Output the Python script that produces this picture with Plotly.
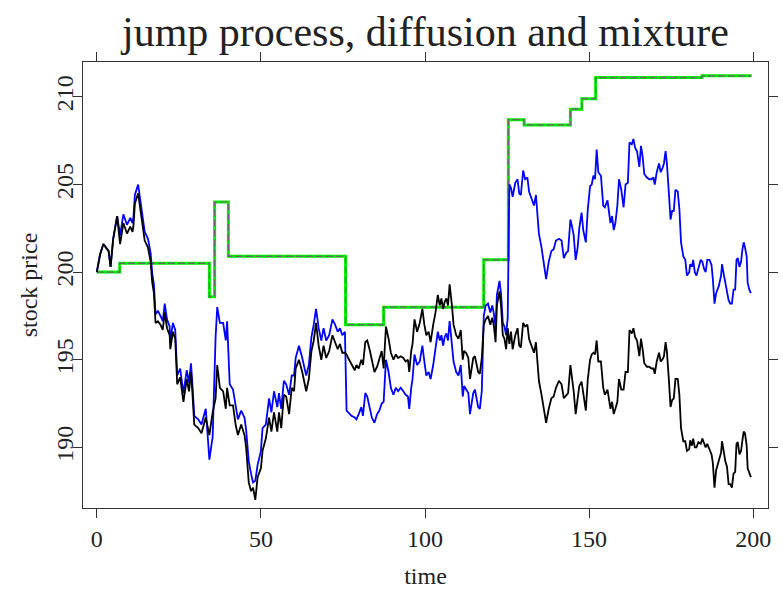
import plotly.graph_objects as go

# ---------------- data ----------------
time = [
    0, 1, 2, 3, 3.6, 4.2, 5, 6.2, 7.1, 8.1, 9.2, 10.2, 10.9, 11.2, 11.6, 12.6, 13.4, 13.9, 14.6, 15.6,
    16.4, 16.9, 17.4, 17.9, 18.6, 19.4, 20.1, 20.7, 21.4, 22.2, 22.4, 23.2, 23.9, 24.5, 25.4, 26.4, 27.4,
    28.1, 28.7, 29.1, 29.7, 30.9, 31.9, 33.2, 34.3, 35.3,
    36.2, 36.7, 37.5, 38.5, 39.3, 39.7, 40.5, 41.5, 42.3, 43.0, 44.0, 45.0, 45.5, 46.3, 47.0, 47.6, 48.3,
    49.0, 50.0, 50.5, 51.5, 52.5, 53.2, 54.0, 55.0, 55.5, 56.2, 57.0, 57.7, 58.6, 59.4, 60.1, 60.6, 61.6,
    62.6, 63.8, 64.6, 65.4, 66.1, 66.8, 67.6, 68.4, 69.1, 69.9, 70.8, 71.8, 72.6, 73.4, 74.1, 74.8, 75.6,
    76.1, 76.6, 77.6, 78.6, 79.1, 79.8, 80.6, 81.1, 81.8, 82.4, 83.1, 83.8, 84.6, 85.4, 86.1, 86.8, 87.4,
    88.1, 88.9, 89.6, 90.4, 91.1, 91.8, 92.6, 93.4, 94.1, 94.8, 95.2, 95.8, 96.2, 96.8, 97.6, 98.4, 99.2,
    99.8, 100.4, 101.1, 101.7, 102.5, 103.2, 103.9,
    104.5, 105.0, 105.5, 106.0, 106.5, 107.0, 107.5, 108.2, 108.7, 109.5, 110.2, 110.9, 111.5, 111.9,
    112.5, 113.2, 113.7, 114.2, 114.7, 115.2, 115.7, 116.2, 116.7, 117.3, 117.9,
    118.5, 119.2, 119.9, 120.5, 121.0, 121.5, 121.9, 122.7, 123.2, 123.7, 124.2, 124.7, 125.2,
    125.7, 126.2, 126.7, 127.5, 128.2, 128.7, 129.2, 129.9, 130.5, 131.2, 131.7, 132.5, 133.2, 133.8,
    134.2, 134.7, 135.5, 136.2, 136.9, 137.7, 138.5, 139.2, 139.9,
    140.8, 141.6, 142.3, 143.0, 143.6, 144.3, 144.8, 145.3, 145.9, 146.5, 147.0, 147.7, 148.2, 149.0,
    149.6, 150.3, 150.8, 151.3, 151.8, 152.3, 152.8, 153.6, 154.3, 154.8, 155.6, 156.0, 156.5, 157.0,
    157.5, 158.0, 158.6, 159.1, 159.8, 160.5, 161.1, 161.8, 162.3, 163.0, 163.5, 164.0, 164.6, 165.3,
    165.8, 166.3, 166.8, 167.6, 168.3, 169.0, 169.6, 170.0, 170.6, 171.3, 171.8, 172.3, 172.8, 173.3,
    173.7, 174.3, 174.8, 175.3, 175.8, 176.3, 177.0, 177.5, 178.0, 178.7, 179.3, 179.8, 180.5, 180.8,
    181.3, 181.7, 182.2, 182.7, 183.3, 184.0, 184.5, 185.0, 185.5, 186.0, 186.7, 187.3, 187.7, 188.2,
    188.7, 189.5, 190.2, 190.5, 191.0, 191.5, 192.0, 192.5, 193.0, 193.5, 194.0, 194.5, 194.9, 195.3,
    195.8, 196.3, 196.7, 197.1, 197.5, 198.0, 198.3, 198.8, 199.3,
]

diffusion = [
    200.0, 201.0, 201.6, 201.3, 201.2, 200.3, 201.9, 203.2, 201.6, 202.8, 202.2, 202.6, 202.3, 202.7, 203.9, 204.5, 203.4, 203.0, 201.8, 201.4,
    200.6, 199.4, 198.8, 197.1, 197.2, 197.0, 196.7, 197.7, 196.8, 196.4, 195.6, 196.6, 196.2, 193.6, 194.0, 192.6, 193.9,
    193.2, 194.3, 193.2, 191.3, 191.1, 190.8, 191.7, 190.7, 192.0,
    192.8, 194.7, 193.4, 193.2, 192.2, 193.4, 192.4, 192.4, 191.3, 190.7, 191.3, 190.7, 190.0, 188.0, 187.5, 187.7, 187.0,
    188.3, 188.8, 189.8, 190.5, 191.7, 190.9, 192.0, 190.9, 192.0, 191.1, 193.0, 192.9, 191.9, 193.4, 193.2, 194.5, 195.0,
    194.3, 193.2, 193.9, 195.5, 196.1, 197.1, 195.8, 195.0, 195.8, 195.1, 195.5, 196.4, 196.0, 195.6, 195.9, 195.4, 195.4,
    195.3, 195.1, 194.7, 194.4, 194.7, 194.5, 195.0, 194.7, 196.0, 196.1, 195.6, 195.0, 194.3, 194.6, 195.1, 195.5, 194.5,
    196.9, 196.2, 195.4, 195.0, 195.3, 195.1, 195.2, 195.1, 194.9, 195.0, 194.3, 195.5, 195.9, 197.3, 196.6, 197.1, 197.9,
    197.0, 196.4, 196.6, 196.0, 197.0, 197.7, 198.7,
    198.1, 198.5, 197.9, 198.3, 198.5, 198.1, 199.3, 198.1, 197.0, 196.4, 196.2, 196.7, 195.0, 195.5,
    195.4, 195.1, 193.9, 194.5, 195.1, 195.2, 194.7, 194.3, 194.2, 195.1, 197.0,
    197.3, 197.5, 197.0, 197.4, 196.9, 196.0, 198.1, 198.9, 198.0, 196.4, 196.2, 195.6, 196.8,
    195.9, 196.6, 195.6, 196.4, 196.8, 195.8, 195.7, 197.1, 196.9, 197.0, 196.2, 195.8, 195.4, 196.0,
    194.9, 193.8, 193.0, 192.2, 191.4, 192.2, 192.8, 192.9, 193.4,
    193.8, 193.6, 192.8, 193.0, 193.1, 194.7, 194.0, 193.2, 191.9, 192.7, 193.5, 193.75, 193.2, 192.1,
    193.9, 195.0, 195.3, 195.4, 195.3, 196.1, 194.9, 194.9, 193.4, 193.0, 193.3, 192.8, 192.2, 192.6,
    191.9, 192.2, 192.6, 193.9, 193.3, 193.3, 194.3, 194.3, 196.7, 196.5, 196.8, 196.3, 196.1, 195.2,
    196.2, 195.6, 194.8, 194.6, 194.6, 194.5, 194.5, 194.2, 194.9, 195.4, 194.9, 195.0, 195.2, 196.0,
    195.45, 193.85, 192.3, 192.7, 192.8, 193.9, 193.9, 193.0, 191.1, 190.35, 190.35, 189.8, 189.9, 190.4,
    190.1, 190.5, 190.0, 190.0, 190.3, 190.2, 190.5, 190.25, 190.0, 190.2, 189.9, 189.6, 189.1, 187.7,
    188.7, 189.2, 189.7, 190.35, 189.7, 189.2, 188.9, 187.9, 187.9, 187.7, 188.5, 188.6, 190.2, 190.3,
    189.6, 189.8, 190.4, 190.9, 190.8, 190.1, 188.8, 188.5, 188.3,
]

mixture = [
    200.0, 201.0, 201.6, 201.3, 201.2, 200.3, 201.9, 203.2, 202.1, 203.3, 202.7, 203.1, 202.8, 203.2, 204.4, 205.0, 203.9, 203.5, 202.3, 201.9,
    201.1, 199.9, 199.3, 197.6, 197.8, 197.5, 197.2, 198.2, 197.3, 196.9, 196.1, 197.1, 196.7, 194.1, 194.5, 193.1, 194.4,
    193.7, 194.8, 193.7, 191.8, 191.6, 191.3, 192.2, 189.3, 190.6,
    196.3, 198.0, 197.1, 197.1, 196.1, 197.2, 193.6, 193.3, 192.3, 191.6, 192.1, 191.7, 191.0, 189.2, 188.5, 188.0, 188.1,
    189.0, 189.8, 191.1, 191.3, 192.8, 192.0, 193.2, 192.3, 193.1, 192.2, 193.8, 193.6, 193.0, 194.1, 194.1, 195.1, 195.8,
    195.1, 194.1, 194.7, 196.3, 197.0, 197.9, 196.8, 196.1, 196.8, 196.1, 196.4, 197.3, 197.0, 196.6, 196.8, 196.4, 196.6,
    192.1, 192.0, 191.8, 191.7, 191.6, 191.9, 192.3, 191.8, 193.1, 192.9, 192.2, 191.7, 191.4, 191.9, 192.1, 192.5, 192.6,
    195.0, 194.3, 193.4, 193.0, 193.4, 193.2, 193.4, 193.2, 193.0, 192.9, 192.2, 193.4, 193.9, 195.3, 194.7, 194.9, 195.8,
    194.9, 194.1, 194.3, 193.9, 194.7, 195.7, 196.6,
    196.1, 196.4, 195.8, 196.3, 196.5, 196.1, 197.2, 196.0, 194.9, 194.3, 194.1, 194.7, 192.9, 193.5,
    193.3, 193.1, 191.9, 192.6, 193.1, 193.3, 192.7, 192.3, 192.2, 193.2, 197.5,
    198.1, 198.2, 197.7, 198.1, 197.6, 196.8, 198.7, 199.5, 198.7, 197.1, 196.9, 196.4, 197.4,
    205.0, 204.8, 204.3, 205.1, 205.3, 204.5, 204.4, 205.8, 205.3, 205.4, 204.6, 204.2, 203.8, 204.4,
    203.3, 202.2, 201.4, 200.6, 199.6, 200.6, 201.2, 201.3, 201.8,
    201.9, 201.8, 200.8, 201.1, 201.2, 203.0, 202.6, 202.1, 200.7, 201.4, 202.5, 203.4, 202.4, 201.7,
    203.6, 204.9, 205.0, 205.5, 205.3, 207.0, 205.7, 205.5, 203.8, 203.7, 204.1, 203.6, 202.8, 203.2,
    202.4, 202.8, 203.8, 205.3, 204.7, 203.7, 205.0, 205.1, 207.4, 207.3, 207.6, 207.1, 206.9, 206.0,
    207.2, 206.6, 205.6, 205.4, 205.3, 205.3, 205.4, 205.0, 205.7, 206.2, 205.7, 205.9, 206.2, 206.9,
    206.2, 204.5, 203.0, 203.5, 203.5, 204.7, 204.6, 203.6, 201.7, 200.9, 200.7, 199.8, 200.0, 200.45,
    200.3, 200.7, 200.0, 199.8, 200.3, 200.7, 200.6, 200.2, 200.0, 200.7, 200.7, 200.4, 199.6, 198.2,
    198.8, 199.2, 199.8, 200.45, 199.9, 199.4, 199.0, 198.4, 198.2, 198.2, 199.0, 199.0, 200.7, 200.8,
    200.3, 200.6, 201.3, 201.7, 201.4, 200.9, 199.4, 199.0, 198.8,
]

jump_time = [0, 7.0, 34.3, 35.9, 40.1, 75.8, 87.4, 117.9, 125.4, 130.2, 144.3, 147.8, 152.0, 184.4, 199.5]
jump_level = [200.0, 200.5, 198.6, 204.0, 200.9, 197.0, 198.0, 200.7, 208.7, 208.4, 209.3, 209.9, 211.1, 211.2, 211.2]

x_ticks = [0, 50, 100, 150, 200]
y_ticks = [190, 195, 200, 205, 210]

# ---------------- figure ----------------
fig = go.Figure()
fig.add_trace(go.Scatter(x=jump_time, y=jump_level, mode="lines", line_shape="hv",
                         line=dict(color="#00ee00", width=3), hoverinfo="skip"))
fig.add_trace(go.Scatter(x=jump_time, y=jump_level, mode="lines", line_shape="hv",
                         line=dict(color="#666666", width=1.2, dash="7px,3px"), hoverinfo="skip"))
fig.add_trace(go.Scatter(x=time, y=mixture, mode="lines",
                         line=dict(color="#0000ff", width=1.8)))
fig.add_trace(go.Scatter(x=time, y=diffusion, mode="lines",
                         line=dict(color="#000000", width=1.8)))

axis_common = dict(showgrid=False, zeroline=False, showline=True, linecolor="#333333", linewidth=1,
                   mirror="ticks", ticks="outside", ticklen=9, tickwidth=1, tickcolor="#333333",
                   tickfont=dict(family="Liberation Serif", size=24, color="#222222"))

fig.update_layout(
    width=783, height=590,
    margin=dict(l=83, r=5, t=62, b=80),
    paper_bgcolor="white", plot_bgcolor="white",
    showlegend=False,
    font=dict(family="Liberation Serif", size=24, color="#222222"),
    title=dict(text="jump process, diffusion and mixture", x=0.5, xref="paper", xanchor="center",
               y=1 - 31 / 590, yref="container", yanchor="middle",
               font=dict(family="Liberation Serif", size=42, color="#222222")),
    xaxis=dict(range=[-4.2, 204.5], tickvals=x_ticks, ticktext=[str(v) for v in x_ticks],
               title=dict(text="time", standoff=16,
                          font=dict(family="Liberation Serif", size=24, color="#222222")),
               **axis_common),
    yaxis=dict(range=[186.54, 211.99], tickvals=y_ticks, ticktext=[str(v) for v in y_ticks],
               tickangle=-90, ticklabelstandoff=-10,
               title=dict(text="stock price", standoff=8,
                          font=dict(family="Liberation Serif", size=24, color="#222222")),
               **axis_common),
)

fig.write_html("out.html")
